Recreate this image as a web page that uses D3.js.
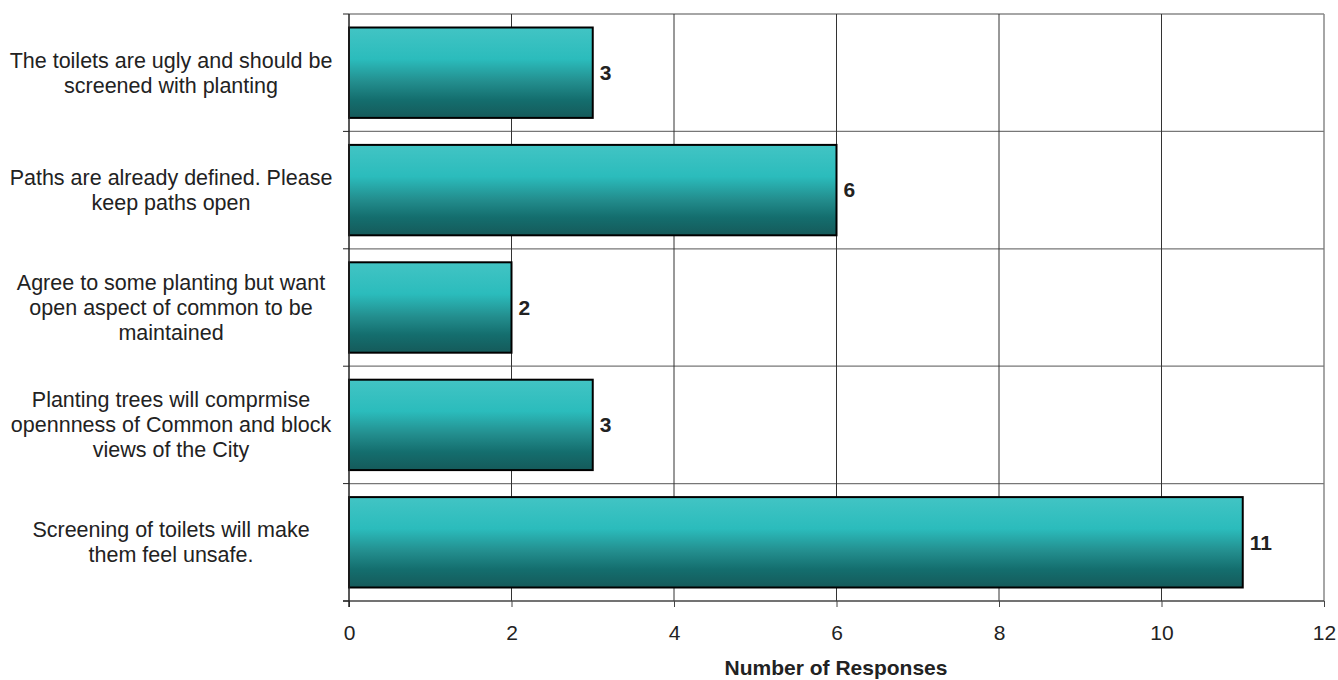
<!DOCTYPE html>
<html><head><meta charset="utf-8">
<script src="https://cdn.jsdelivr.net/npm/d3@7"></script>
<style>body{margin:0;background:#fff}svg{display:block}text{font-family:"Liberation Sans",Arial,sans-serif;fill:#222}</style>
</head><body><svg id="c" width="1338" height="680"></svg>
<script>
const categories = [
  ["The toilets are ugly and should be","screened with planting"],
  ["Paths are already defined. Please","keep paths open"],
  ["Agree to some planting but want","open aspect of common to be","maintained"],
  ["Planting trees will comprmise","opennness of Common and block","views of the City"],
  ["Screening of toilets will make","them feel unsafe."]
];
const values = [3, 6, 2, 3, 11];
const xTicks = [0, 2, 4, 6, 8, 10, 12];
const xTitle = "Number of Responses";

const svg = d3.select("#c");
const L = 349, R = 1324, T = 14, B = 601;
const FS = 21;
const x = d3.scaleLinear().domain([0, 12]).range([L, R]);
const y = d3.scaleBand().domain(d3.range(categories.length)).range([T, B]).paddingInner(0.23).paddingOuter(0.115);

const defs = svg.append("defs");
const g = defs.append("linearGradient").attr("id","bg").attr("x1",0).attr("y1",0).attr("x2",0).attr("y2",1);
[[0,"#42c4c4"],[0.35,"#2bbcbc"],[0.6,"#238e8e"],[0.8,"#146e6e"],[1,"#155a5a"]].forEach(([o,c])=>g.append("stop").attr("offset",o).attr("stop-color",c));

// frame
svg.append("line").attr("x1",L).attr("x2",R).attr("y1",T).attr("y2",T).attr("stroke","#888").attr("stroke-width",1.5);
svg.append("line").attr("x1",R).attr("x2",R).attr("y1",T).attr("y2",B).attr("stroke","#888").attr("stroke-width",1.5);
// horizontal gridlines at band boundaries
const step = (B - T) / categories.length;
d3.range(1, categories.length).forEach(i => {
  svg.append("line").attr("x1",L).attr("x2",R).attr("y1",T+i*step).attr("y2",T+i*step).attr("stroke","#777").attr("stroke-width",1.3);
});
// vertical gridlines
xTicks.slice(1, -1).forEach(t => {
  svg.append("line").attr("x1",x(t)).attr("x2",x(t)).attr("y1",T).attr("y2",B).attr("stroke","#333").attr("stroke-width",1);
});

// bars
svg.selectAll("rect.bar").data(values).join("rect").attr("class","bar")
  .attr("x", x(0)).attr("y",(d,i)=>y(i)).attr("width",d=>x(d)-x(0)).attr("height",y.bandwidth())
  .attr("fill","url(#bg)").attr("stroke","#000").attr("stroke-width",2);

svg.selectAll("text.val").data(values).join("text").attr("class","val")
  .attr("x",d=>x(d)+7).attr("y",(d,i)=>y(i)+y.bandwidth()/2).attr("dy","0.35em")
  .attr("font-size",FS).attr("font-weight","bold").text(d=>d);

// x axis
const xa = svg.append("g").attr("transform",`translate(0,${B})`).call(d3.axisBottom(x).tickValues(xTicks).tickSize(6).tickPadding(18));
xa.select(".domain").attr("stroke","#444").attr("stroke-width",1.5).attr("d",`M${L-6},0H${R}`);
xa.selectAll(".tick line").attr("stroke","#444");
xa.selectAll(".tick text").attr("font-size",FS).attr("fill","#222").style("font-family","Liberation Sans, Arial, sans-serif");

// y axis
svg.append("line").attr("x1",L).attr("x2",L).attr("y1",T).attr("y2",B+6).attr("stroke","#222").attr("stroke-width",1.5);
d3.range(0, categories.length + 1).forEach(i => {
  svg.append("line").attr("x1",L-6).attr("x2",L).attr("y1",T+i*step).attr("y2",T+i*step).attr("stroke","#222").attr("stroke-width",1);
});

// category labels
categories.forEach((lines, i) => {
  const cy = y(i) + y.bandwidth()/2;
  const lh = 25;
  const t = svg.append("text").attr("text-anchor","middle").attr("font-size",21.5);
  lines.forEach((ln, k) => {
    t.append("tspan").attr("x",171).attr("y", cy + (k - (lines.length-1)/2)*lh).attr("dy","0.35em").text(ln);
  });
});

svg.append("text").attr("x",836).attr("y",675).attr("text-anchor","middle").attr("font-size",FS).attr("font-weight","bold").text(xTitle);
</script></body></html>
